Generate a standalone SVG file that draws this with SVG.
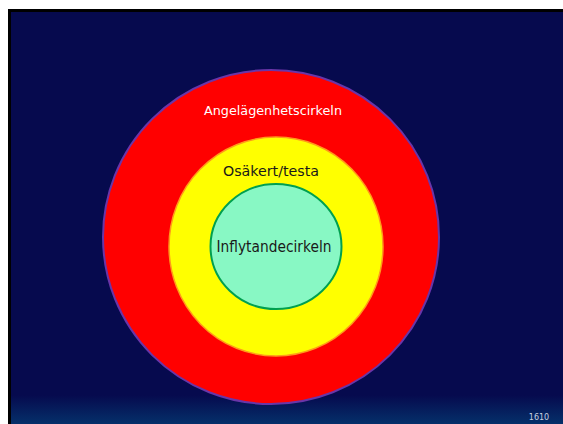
<svg xmlns="http://www.w3.org/2000/svg" width="563" height="424" viewBox="0 0 563 424">
  <defs>
    <linearGradient id="bg" x1="0" y1="0" x2="0" y2="1">
      <stop offset="0" stop-color="#060a4e"/>
      <stop offset="0.93" stop-color="#060a4e"/>
      <stop offset="1" stop-color="#05306a"/>
    </linearGradient>
    <style>
      .lbl { font-family: "Comic Sans MS", "DejaVu Sans", sans-serif; text-anchor: middle; }
    </style>
  </defs>

  <!-- page margin and slide frame -->
  <rect x="0" y="0" width="563" height="424" fill="#ffffff"/>
  <rect x="8" y="9" width="555" height="415" fill="#000000"/>
  <rect x="11" y="12" width="552" height="412" fill="url(#bg)"/>

  <g id="angelagenhetscirkeln">
    <ellipse cx="271" cy="237" rx="168" ry="167" fill="#ff0000" stroke="#6a35a8" stroke-width="2"/>
    <text class="lbl" x="273" y="115" font-size="13" fill="#ffffff" textLength="138" lengthAdjust="spacingAndGlyphs">Angelägenhetscirkeln</text>
  </g>

  <g id="osakert-testa">
    <ellipse cx="276" cy="246.5" rx="107" ry="109.5" fill="#ffff00" stroke="#ff9a1a" stroke-width="1.5"/>
    <text class="lbl" x="271" y="176" font-size="14" fill="#1a1a1a" textLength="96" lengthAdjust="spacingAndGlyphs">Osäkert/testa</text>
  </g>

  <g id="inflytandecirkeln">
    <ellipse cx="276" cy="246.5" rx="65.5" ry="62.5" fill="#88f8c4" stroke="#00a050" stroke-width="2"/>
    <text class="lbl" x="274" y="252" font-size="15" fill="#1a1a1a" textLength="115" lengthAdjust="spacingAndGlyphs">Inflytandecirkeln</text>
  </g>

  <text x="539" y="420" font-family="'DejaVu Sans', sans-serif" font-size="8" fill="#c8d0e0" text-anchor="middle">1610</text>
</svg>
